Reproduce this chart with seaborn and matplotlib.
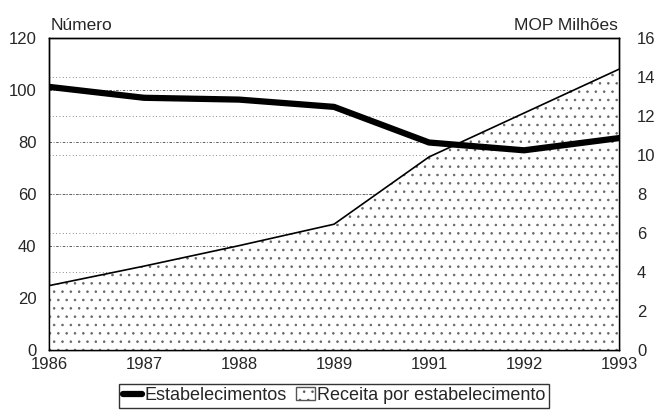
import numpy as np
import pandas as pd
import matplotlib
matplotlib.use("Agg")
import matplotlib.pyplot as plt
import seaborn as sns
from matplotlib.lines import Line2D
from matplotlib.patches import Patch

years = ["1986", "1987", "1988", "1989", "1991", "1992", "1993"]
estabelecimentos = [101.2, 97.0, 96.3, 93.5, 79.8, 76.8, 81.5]
receita = [3.3, 4.3, 5.35, 6.45, 9.9, 12.15, 14.4]
left_ticks = [0, 20, 40, 60, 80, 100, 120]
right_ticks = [0, 2, 4, 6, 8, 10, 12, 14, 16]

sns.set_style("white")
plt.rcParams["font.family"] = ["Liberation Sans", "DejaVu Sans"]
plt.rcParams["hatch.color"] = "#555555"
plt.rcParams["hatch.linewidth"] = 0.6

df = pd.DataFrame({"pos": np.arange(len(years)), "year": years,
                   "est": estabelecimentos, "rec": receita})

fig = plt.figure(figsize=(6.55, 4.16), dpi=100)
ax = fig.add_axes([0.0748, 0.1587, 0.8703, 0.75])
ax2 = ax.twinx()
ax3 = ax.twinx()

# left axis (Número)
ax.set_ylim(0, 120)
ax.set_xlim(0, len(years) - 1)
ax.set_yticks(left_ticks)
ax.set_xticks(df["pos"])
ax.set_xticklabels(years)
ax.grid(axis="y", color="#444444", linestyle=(0, (3, 2, 1, 2)), linewidth=0.6)
ax.grid(axis="x", visible=False)
ax.tick_params(axis="y", length=0, labelsize=12, pad=9)
ax.tick_params(axis="x", length=0, labelsize=12, pad=5)

# right axis (MOP Milhões) area
ax2.set_ylim(0, 16)
ax2.set_yticks(right_ticks)
ax2.set_axisbelow(True)
ax2.grid(axis="y", color="#666666", linestyle=(0, (1, 3)), linewidth=0.6)
ax2.fill_between(df["pos"], 0, df["rec"], facecolor="white", hatch="..",
                 edgecolor="#666666", linewidth=0, zorder=2)
sns.lineplot(data=df, x="pos", y="rec", ax=ax2, color="black", linewidth=1.2,
             zorder=3, legend=False)
ax2.set_xlabel("")
ax2.set_ylabel("")
ax2.tick_params(axis="y", length=0, labelsize=12, pad=13)

# line on top
ax3.set_ylim(0, 120)
sns.lineplot(data=df, x="pos", y="est", ax=ax3, color="black", linewidth=4.5,
             solid_capstyle="round", legend=False, zorder=5)
ax3.set_axis_off()
ax3.set_xlim(0, len(years) - 1)
ax.set_xlabel("")
ax.set_ylabel("")

for a in (ax, ax2):
    for s in a.spines.values():
        s.set_color("black")
        s.set_linewidth(1.0)

fig.text(0.077, 0.928, "Número", fontsize=12.5, ha="left", va="baseline")
fig.text(0.944, 0.928, "MOP Milhões", fontsize=12.5, ha="right", va="baseline")

handles = [Line2D([0], [0], color="black", linewidth=4.5),
           Patch(facecolor="white", edgecolor="#555555", hatch="..")]
leg = fig.legend(handles, ["Estabelecimentos", "Receita por estabelecimento"],
                 loc="center", bbox_to_anchor=(0.510, 0.049), ncol=2,
                 frameon=True, fancybox=False, fontsize=13,
                 handlelength=1.1, handleheight=0.7, handletextpad=0.1,
                 columnspacing=0.5, borderpad=0.2, borderaxespad=0)
leg.get_frame().set_edgecolor("black")
leg.get_frame().set_linewidth(1.0)

fig.savefig("out.png", dpi=100)
